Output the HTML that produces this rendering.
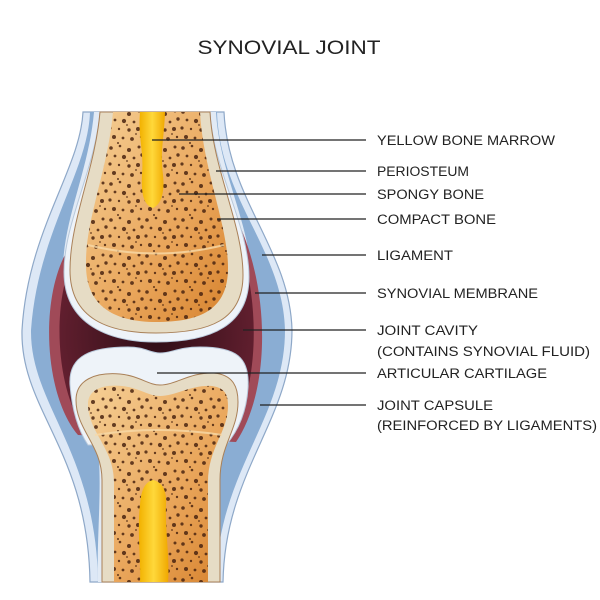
<!DOCTYPE html>
<html><head><meta charset="utf-8"><style>
html,body{margin:0;padding:0;background:#fff;width:600px;height:600px;overflow:hidden}
svg{display:block}
text{font-family:"Liberation Sans",sans-serif;fill:#222}
</style></head><body>
<svg width="600" height="600" viewBox="0 0 600 600" xmlns="http://www.w3.org/2000/svg">
<defs>
<linearGradient id="sp" x1="0" y1="0" x2="1" y2="1">
<stop offset="0" stop-color="#f5cf95"/><stop offset="0.6" stop-color="#e9a55a"/><stop offset="1" stop-color="#d7832e"/>
</linearGradient>
<radialGradient id="cav" cx="0.5" cy="0.5" r="0.6">
<stop offset="0" stop-color="#2e0d16"/><stop offset="1" stop-color="#6a2233"/>
</radialGradient>
<linearGradient id="mar" x1="0" y1="0" x2="1" y2="0">
<stop offset="0" stop-color="#f2b100"/><stop offset="0.5" stop-color="#ffd83a"/><stop offset="1" stop-color="#f0a800"/>
</linearGradient>
<pattern id="dots" width="36" height="36" patternUnits="userSpaceOnUse">
<g fill="#4a2410">
<circle cx="3" cy="4" r="1.8"/><circle cx="12" cy="2" r="1.3"/><circle cx="21" cy="6" r="2"/><circle cx="31" cy="3" r="1.5"/>
<circle cx="7" cy="12" r="1.4"/><circle cx="16" cy="13" r="2.1"/><circle cx="26" cy="14" r="1.4"/><circle cx="34" cy="11" r="1.7"/>
<circle cx="2" cy="20" r="1.6"/><circle cx="11" cy="21" r="1.2"/><circle cx="21" cy="22" r="1.7"/><circle cx="30" cy="21" r="2"/>
<circle cx="6" cy="29" r="2"/><circle cx="15" cy="30" r="1.4"/><circle cx="24" cy="31" r="1.9"/><circle cx="33" cy="29" r="1.2"/>
<circle cx="10" cy="35" r="1"/><circle cx="28" cy="26" r="0.9"/><circle cx="19" cy="17" r="0.9"/>
</g>
</pattern>
</defs>

<text x="289" y="54" font-size="19" text-anchor="middle" textLength="183" lengthAdjust="spacingAndGlyphs">SYNOVIAL JOINT</text>

<!-- capsule outer -->
<path d="M83,112 C80,170 28,230 22,330 C20,410 88,450 90,582 L223,582 C225,470 292,420 292,330 C290,250 228,200 224,112 Z" fill="#dde8f6" stroke="#8ea8c8" stroke-width="1.2"/>
<path d="M90,112 C88,172 38,232 31,330 C30,405 96,450 98,582 L216,582 C218,470 285,420 285,330 C283,250 220,200 217,112 Z" fill="#8aadd3"/>
<!-- light band around upper bone -->
<path d="M94,112 C89,170 63,220 63,270 L250,270 C250,225 219,170 216,112 Z" fill="#e1eaf5"/>
<!-- light band around lower bone -->
<path d="M96,440 C104,470 96,540 98,582 L214,582 C214,540 212,470 224,440 Z" fill="#e1eaf5"/>

<!-- cavity & membrane -->
<path d="M66,253 C40,300 44,395 78,435 L236,442 C268,395 272,300 240,226 C225,240 225,250 200,270 L110,270 C90,262 80,255 66,253 Z" fill="#a04a58"/>
<path d="M72,262 C52,305 56,390 84,428 L230,434 C258,392 262,305 238,238 C228,250 220,265 200,275 L110,275 C95,268 85,262 72,262 Z" fill="url(#cav)"/>

<!-- upper bone cartilage -->
<path d="M100,112 C95,170 64,222 64,272 C64,325 110,342 156,342 C212,342 249,325 249,277 C249,225 213,170 210,112 Z" fill="#eef3f9" stroke="#b8c8da" stroke-width="1"/>
<path d="M100,112 C95,170 70,220 70,270 C70,320 110,333 156,333 C210,333 243,320 243,275 C243,225 213,170 210,112 Z" fill="#e6dcc5" stroke="#a98058" stroke-width="1"/>
<path d="M113,112 C108,170 85,220 86,265 C86,310 120,322 156,322 C200,322 228,310 228,268 C228,225 203,170 200,112 Z" fill="url(#sp)"/>
<path d="M113,112 C108,170 85,220 86,265 C86,310 120,322 156,322 C200,322 228,310 228,268 C228,225 203,170 200,112 Z" fill="url(#dots)" opacity="0.85"/>
<path d="M88,245 Q156,262 224,245" stroke="#f7d9a8" stroke-width="2" fill="none" opacity="0.8"/>
<path d="M140,112 L165,112 C164,140 160,150 163,175 C165,195 160,205 153,208 C144,205 141,195 142,175 C144,150 138,140 140,112 Z" fill="url(#mar)"/>

<!-- lower bone cartilage -->
<path d="M70,385 C68,355 92,347 128,347 C145,347 150,353 160,353 C172,353 178,347 200,347 C236,347 250,357 248,388 C246,420 232,438 226,445 L88,445 C78,430 72,410 70,385 Z" fill="#eef3f9" stroke="#b8c8da" stroke-width="1"/>
<path d="M76,400 C76,380 95,372 120,374 C140,376 148,385 160,385 C176,385 190,372 214,373 C234,375 238,388 238,402 C238,430 220,445 220,480 L220,582 L102,582 L102,480 C102,445 76,430 76,400 Z" fill="#e6dcc5" stroke="#a98058" stroke-width="1"/>
<path d="M88,404 C88,390 102,384 122,386 C140,388 148,396 160,396 C176,396 190,385 212,386 C226,388 228,396 228,406 C228,432 208,448 208,482 L208,582 L114,582 L114,482 C114,448 88,432 88,404 Z" fill="url(#sp)"/>
<path d="M88,404 C88,390 102,384 122,386 C140,388 148,396 160,396 C176,396 190,385 212,386 C226,388 228,396 228,406 C228,432 208,448 208,482 L208,582 L114,582 L114,482 C114,448 88,432 88,404 Z" fill="url(#dots)" opacity="0.85"/>
<path d="M95,435 Q158,425 222,435" stroke="#f7d9a8" stroke-width="2" fill="none" opacity="0.8"/>
<path d="M140,582 C141,560 137,530 140,505 C141,490 145,482 153,480 C162,482 167,490 166,505 C165,530 170,560 168,582 Z" fill="url(#mar)"/>

<!-- leader lines -->
<g stroke="#222" stroke-width="1.3">
<line x1="152" y1="140" x2="366" y2="140"/>
<line x1="216" y1="171" x2="366" y2="171"/>
<line x1="179" y1="194" x2="366" y2="194"/>
<line x1="217" y1="219" x2="366" y2="219"/>
<line x1="262" y1="255" x2="366" y2="255"/>
<line x1="255" y1="293" x2="366" y2="293"/>
<line x1="243" y1="330" x2="366" y2="330"/>
<line x1="157" y1="373" x2="366" y2="373"/>
<line x1="260" y1="405" x2="366" y2="405"/>
</g>

<g font-size="13.5">
<text x="377" y="145" textLength="178" lengthAdjust="spacingAndGlyphs">YELLOW BONE MARROW</text>
<text x="377" y="176" textLength="92" lengthAdjust="spacingAndGlyphs">PERIOSTEUM</text>
<text x="377" y="199" textLength="107" lengthAdjust="spacingAndGlyphs">SPONGY BONE</text>
<text x="377" y="224" textLength="119" lengthAdjust="spacingAndGlyphs">COMPACT BONE</text>
<text x="377" y="260" textLength="76" lengthAdjust="spacingAndGlyphs">LIGAMENT</text>
<text x="377" y="298" textLength="161" lengthAdjust="spacingAndGlyphs">SYNOVIAL MEMBRANE</text>
<text x="377" y="335" textLength="101" lengthAdjust="spacingAndGlyphs">JOINT CAVITY</text>
<text x="377" y="356" textLength="213" lengthAdjust="spacingAndGlyphs">(CONTAINS SYNOVIAL FLUID)</text>
<text x="377" y="378" textLength="170" lengthAdjust="spacingAndGlyphs">ARTICULAR CARTILAGE</text>
<text x="377" y="410" textLength="116" lengthAdjust="spacingAndGlyphs">JOINT CAPSULE</text>
<text x="377" y="430" textLength="220" lengthAdjust="spacingAndGlyphs">(REINFORCED BY LIGAMENTS)</text>
</g>
</svg>
</body></html>
